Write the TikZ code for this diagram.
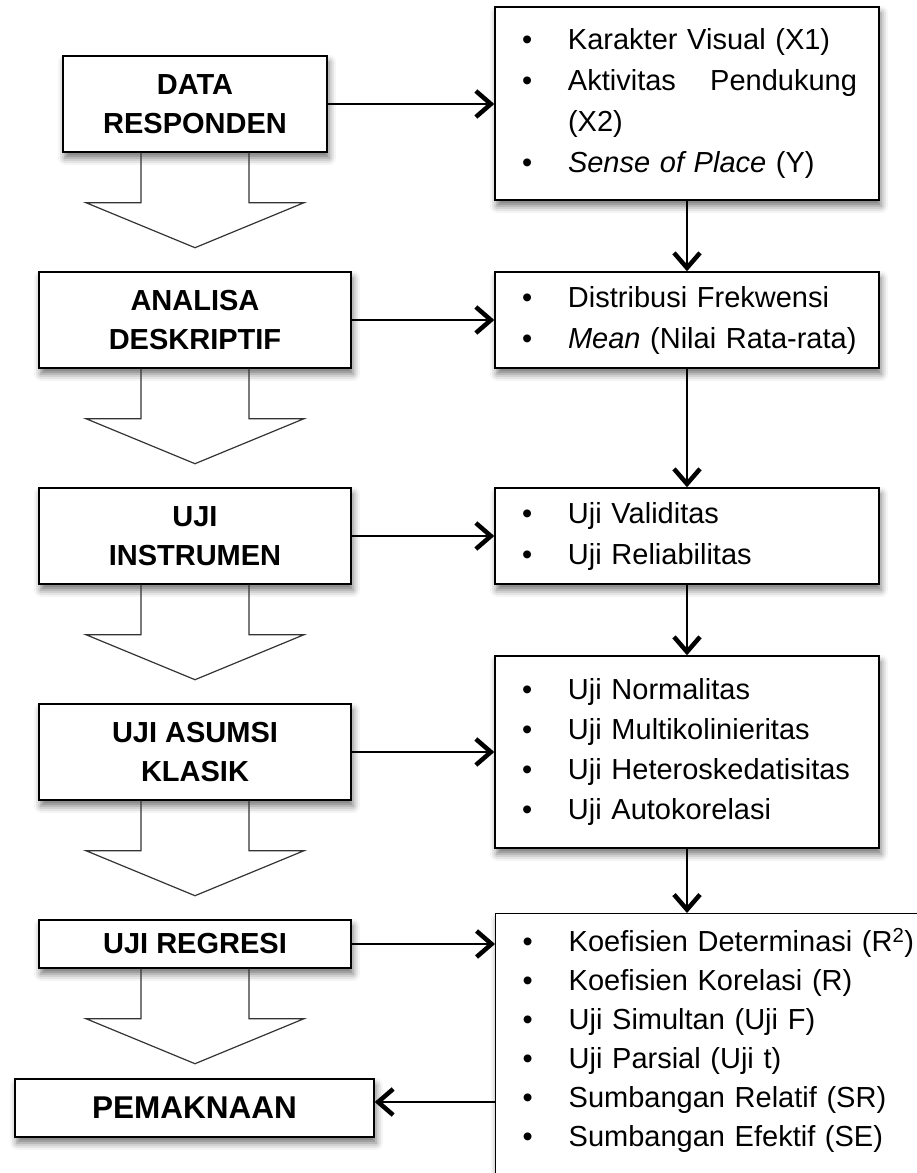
\documentclass[tikz,border=0pt]{standalone}
\usepackage{fontspec}
\setmainfont{Liberation Sans}
\usetikzlibrary{arrows.meta,positioning,calc,shadows.blur}

\tikzset{
  lbox/.style={draw, line width=1.4pt, fill=white, inner xsep=8pt, inner ysep=2pt,
    minimum height=96pt, align=center, font=\fontsize{29}{39}\selectfont\bfseries,
    blur shadow={shadow xshift=2pt, shadow yshift=-6pt, shadow blur radius=7pt, shadow opacity=55}},
  rbox/.style={draw, line width=1.4pt, fill=white, text width=340pt, inner xsep=22pt, inner ysep=6pt,
    align=left, font=\fontsize{29}{41}\selectfont,
    blur shadow={shadow xshift=2pt, shadow yshift=-6pt, shadow blur radius=7pt, shadow opacity=55}},
  conn/.style={line width=2pt, -{Straight Barb[length=15pt, width=26pt, line width=4.5pt]}},
  hollow/.style={draw=black!80, line width=1.2pt, line join=miter},
}
\newcommand{\itm}{\makebox[51pt][l]{\hspace*{5pt}\textbullet}}
% open block arrow under a left box
\newcommand{\bigarrow}[1]{%
  \draw[hollow] ($(#1.south)+(-54,0)$) -- ++(0,50) -- ++(-55,0) -- ++(109,45)
    -- ++(109,-45) -- ++(-55,0) -- ++(0,-50);}

\begin{document}
\begin{tikzpicture}[x=1pt, y=-1pt]
\useasboundingbox (0,0) rectangle (917,1173);
\clip (0,0) rectangle (917,1173);

% left column
\node[lbox, minimum width=264pt] (L1) at (195,104) {DATA\\RESPONDEN};
\node[lbox, minimum width=312pt] (L2) at (195,320) {ANALISA\\DESKRIPTIF};
\node[lbox, minimum width=312pt] (L3) at (195,536) {UJI\\INSTRUMEN};
\node[lbox, minimum width=312pt] (L4) at (195,752) {UJI ASUMSI\\KLASIK};
\node[lbox, minimum width=312pt, minimum height=48pt] (L5) at (195,944) {UJI REGRESI};
\node[lbox, minimum width=359pt, minimum height=58pt, font=\fontsize{31.5}{38}\selectfont\bfseries] (L6) at (194.5,1108) {PEMAKNAAN};

% right column
\node[rbox, minimum height=193pt] (R1) at (687,103.5)
  {\itm Karakter Visual (X1)\\ \itm Aktivitas\hfill Pendukung\\ \hspace*{51pt}(X2)\\ \itm\textit{Sense of Place} (Y)};
\node[rbox, minimum height=96pt] (R2) at (687,320)
  {\itm Distribusi Frekwensi\\ \itm\textit{Mean} (Nilai Rata-rata)};
\node[rbox, minimum height=96pt] (R3) at (687,536)
  {\itm Uji Validitas\\ \itm Uji Reliabilitas};
\node[rbox, minimum height=192pt, font=\fontsize{29}{40}\selectfont] (R4) at (687,752)
  {\itm Uji Normalitas\\ \itm Uji Multikolinieritas\\ \itm Uji Heteroskedatisitas\\ \itm Uji Autokorelasi};
\node[rbox, anchor=north west, text width=420pt, inner ysep=15pt] (R5) at (495,913)
  {\parbox[t][250pt][t]{420pt}{\fontsize{29}{39}\selectfont
   \itm Koefisien Determinasi (R\textsuperscript{2})\\
   \itm Koefisien Korelasi (R)\\
   \itm Uji Simultan (Uji F)\\
   \itm Uji Parsial (Uji t)\\
   \itm Sumbangan Relatif (SR)\\
   \itm Sumbangan Efektif (SE)}};

% block arrows
\bigarrow{L1}
\bigarrow{L2}
\bigarrow{L3}
\bigarrow{L4}
\bigarrow{L5}

% connectors
\draw[conn] (L1.east) -- (L1.east -| R1.west);
\draw[conn] (L2.east) -- (L2.east -| R2.west);
\draw[conn] (L3.east) -- (L3.east -| R3.west);
\draw[conn] (L4.east) -- (L4.east -| R4.west);
\draw[conn] (L5.east) -- (L5.east -| R5.west);
\draw[conn] (R1.south) -- (R2.north);
\draw[conn] (R2.south) -- (R3.north);
\draw[conn] (R3.south) -- (R4.north);
\draw[conn] (R4.south) -- (R4.south |- R5.north);
\coordinate (pm) at ($(L6.east)+(0,-6)$);
\draw[conn] (pm -| R5.west) -- (pm);
\end{tikzpicture}
\end{document}
